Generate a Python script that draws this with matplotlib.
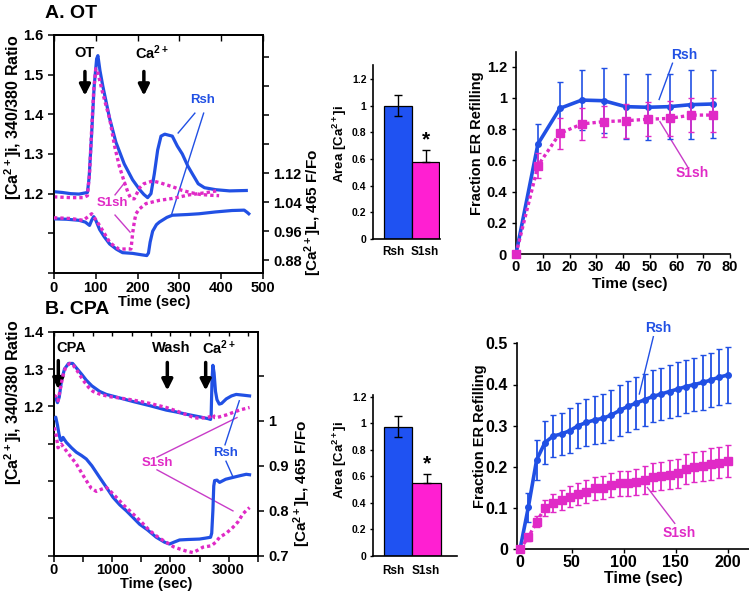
import numpy as np
import matplotlib
matplotlib.use('Agg')
import matplotlib.pyplot as plt

# ---------------- data ----------------
# Panel A, OT traces (upper = cytosolic, left axis; lower = luminal, right axis)
a_rsh_i_t = [0, 20, 40, 60, 80, 84, 90, 96, 102, 105, 110, 117, 125, 133, 148, 168, 188, 205, 215, 224,
             232, 240, 248, 256, 265, 283, 295, 307, 320, 331, 345, 360, 387, 420, 460]
a_rsh_i_v = [1.205, 1.203, 1.200, 1.199, 1.203, 1.24, 1.35, 1.47, 1.54, 1.548, 1.51, 1.47, 1.43, 1.39, 1.33,
             1.275, 1.235, 1.21, 1.198, 1.19, 1.20, 1.25, 1.31, 1.345, 1.35, 1.345, 1.32, 1.30, 1.27, 1.25,
             1.225, 1.215, 1.21, 1.207, 1.208]
a_s1_i_t = [0, 40, 70, 80, 85, 90, 95, 100, 104, 115, 125, 133, 145, 156, 168, 178, 184, 192, 198, 205,
            215, 236, 252, 270, 290, 307, 330, 350, 375, 395]
a_s1_i_v = [1.192, 1.19, 1.19, 1.195, 1.25, 1.36, 1.46, 1.515, 1.51, 1.46, 1.42, 1.39, 1.32, 1.27, 1.23,
            1.20, 1.188, 1.187, 1.20, 1.215, 1.225, 1.232, 1.228, 1.222, 1.215, 1.208, 1.202, 1.198, 1.196, 1.195]
a_rsh_l_t = [0, 30, 60, 75, 85, 90, 95, 100, 109, 120, 133, 150, 164, 188, 210, 222, 226, 230, 236, 245,
             252, 270, 283, 320, 347, 386, 426, 455, 462, 466]
a_rsh_l_v = [0.994, 0.993, 0.99, 0.985, 0.976, 0.99, 1.0, 0.99, 0.965, 0.945, 0.925, 0.91, 0.901, 0.899,
             0.895, 0.893, 0.90, 0.93, 0.96, 0.978, 0.985, 0.998, 1.004, 1.006, 1.008, 1.013, 1.017, 1.018,
             1.012, 1.008]
a_s1_l_t = [0, 40, 70, 85, 90, 95, 109, 120, 133, 145, 156, 184, 186, 188, 192, 196, 205, 220, 252, 283,
            323, 363, 394]
a_s1_l_v = [0.997, 0.995, 0.99, 1.003, 1.008, 1.0, 0.976, 0.955, 0.93, 0.918, 0.911, 0.911, 0.93, 0.953,
            0.985, 1.008, 1.022, 1.036, 1.045, 1.05, 1.06, 1.066, 1.072]

# Panel B, CPA traces
b_rsh_i_t = [0, 30, 60, 90, 130, 180, 250, 320, 400, 480, 555, 650, 784, 900, 1070, 1357, 1643, 1929, 2100,
             2272, 2500, 2650, 2690, 2700, 2715, 2730, 2750, 2775, 2800, 2840, 2880, 2960, 3050, 3130, 3250, 3360]
b_rsh_i_v = [1.225, 1.222, 1.21, 1.225, 1.27, 1.30, 1.315, 1.315, 1.30, 1.285, 1.27, 1.255, 1.24, 1.232,
             1.225, 1.213, 1.202, 1.19, 1.185, 1.179, 1.172, 1.167, 1.165, 1.175, 1.27, 1.31, 1.29, 1.24,
             1.218, 1.206, 1.208, 1.22, 1.228, 1.232, 1.23, 1.228]
b_s1_i_t = [0, 40, 70, 100, 150, 200, 270, 330, 400, 500, 600, 670, 800, 956, 1150, 1357, 1643, 1929, 2100,
            2272, 2400, 2500, 2600, 2680, 2730, 2760, 2800, 2960, 3100, 3188, 3360]
b_s1_i_v = [1.23, 1.225, 1.215, 1.24, 1.28, 1.305, 1.315, 1.31, 1.295, 1.27, 1.25, 1.24, 1.232, 1.226,
            1.222, 1.217, 1.208, 1.197, 1.188, 1.178, 1.17, 1.168, 1.17, 1.172, 1.178, 1.17, 1.17, 1.177,
            1.185, 1.19, 1.197]
b_rsh_l_t = [0, 30, 60, 86, 110, 126, 155, 180, 212, 300, 384, 470, 555, 650, 784, 900, 1013, 1130, 1242,
             1357, 1471, 1600, 1757, 1900, 1986, 2060, 2158, 2300, 2500, 2600, 2690, 2710, 2730, 2745, 2760,
             2800, 2845, 2950, 3074, 3200, 3303, 3360]
b_rsh_l_v = [1.005, 1.008, 0.99, 0.97, 0.958, 0.956, 0.963, 0.958, 0.952, 0.94, 0.93, 0.923, 0.915, 0.90,
             0.874, 0.852, 0.83, 0.813, 0.80, 0.785, 0.77, 0.758, 0.741, 0.73, 0.726, 0.73, 0.735, 0.736,
             0.737, 0.739, 0.741, 0.75, 0.80, 0.855, 0.867, 0.868, 0.863, 0.87, 0.874, 0.878, 0.881, 0.88]
b_s1_l_t = [0, 30, 69, 100, 126, 170, 212, 300, 384, 470, 555, 640, 727, 800, 899, 980, 1070, 1200, 1357,
            1500, 1643, 1800, 1929, 2050, 2158, 2280, 2387, 2480, 2559, 2700, 2780, 2845, 2960, 3074, 3160,
            3246, 3300, 3360]
b_s1_l_v = [0.985, 0.975, 0.94, 0.945, 0.948, 0.94, 0.933, 0.918, 0.904, 0.885, 0.867, 0.85, 0.843, 0.847,
            0.852, 0.842, 0.83, 0.812, 0.793, 0.775, 0.756, 0.74, 0.73, 0.72, 0.715, 0.71, 0.707, 0.713,
            0.719, 0.722, 0.73, 0.741, 0.75, 0.763, 0.775, 0.793, 0.80, 0.807]

# Bars
bar_groups = ['Rsh', 'S1sh']
barA_vals = [1.0, 0.58]
barA_err_lo = [0.08, 0.0]
barA_err_hi = [0.08, 0.09]
barB_vals = [0.975, 0.545]
barB_err_lo = [0.08, 0.0]
barB_err_hi = [0.08, 0.075]

# ER refilling
refA_t = [0, 8.2, 16.4, 24.6, 32.8, 41, 49.2, 57.4, 65.6, 73.8]
refA_rsh = [0, 0.705, 0.933, 0.986, 0.982, 0.944, 0.940, 0.944, 0.957, 0.961]
refA_rsh_err = [0, 0.13, 0.17, 0.19, 0.21, 0.21, 0.21, 0.21, 0.22, 0.22]
refA_s1 = [0, 0.566, 0.773, 0.833, 0.848, 0.854, 0.863, 0.869, 0.89, 0.89]
refA_s1_err = [0, 0.08, 0.10, 0.10, 0.10, 0.11, 0.11, 0.11, 0.11, 0.11]

refB_t = [0, 8, 16, 24, 32, 40, 48, 56, 64, 72, 80, 88, 96, 104, 112, 120, 128, 136, 144, 152, 160, 168,
          176, 184, 192, 200]
refB_rsh = [0, 0.102, 0.217, 0.259, 0.275, 0.28, 0.288, 0.30, 0.308, 0.314, 0.318, 0.326, 0.337, 0.347,
            0.355, 0.363, 0.371, 0.377, 0.383, 0.389, 0.395, 0.40, 0.405, 0.411, 0.418, 0.423]
refB_rsh_err = [0, 0.035, 0.048, 0.052, 0.052, 0.052, 0.055, 0.055, 0.057, 0.058, 0.06, 0.06, 0.061, 0.062,
                0.062, 0.063, 0.063, 0.064, 0.064, 0.065, 0.065, 0.065, 0.066, 0.066, 0.067, 0.067]
refB_s1 = [0, 0.029, 0.067, 0.10, 0.112, 0.12, 0.128, 0.134, 0.14, 0.148, 0.15, 0.156, 0.16, 0.16, 0.164,
           0.168, 0.175, 0.178, 0.181, 0.185, 0.195, 0.20, 0.202, 0.207, 0.21, 0.215]
refB_s1_err = [0, 0.008, 0.014, 0.02, 0.022, 0.024, 0.025, 0.026, 0.027, 0.028, 0.029, 0.03, 0.03, 0.031,
               0.032, 0.033, 0.034, 0.034, 0.035, 0.035, 0.036, 0.037, 0.037, 0.038, 0.038, 0.039]

# ---------------- style ----------------
W, H = 749, 593
plt.rcParams['font.family'] = ['Liberation Sans', 'DejaVu Sans']
plt.rcParams['font.weight'] = 'bold'
plt.rcParams['axes.labelweight'] = 'bold'
plt.rcParams['mathtext.fontset'] = 'custom'
plt.rcParams['mathtext.rm'] = 'Liberation Sans:bold'
plt.rcParams['mathtext.it'] = 'Liberation Sans:bold'
plt.rcParams['mathtext.bf'] = 'Liberation Sans:bold'
plt.rcParams['axes.linewidth'] = 1.2

BLUE = '#2150e4'
MAG = '#e02ac6'
BAR_BLUE = '#1f52f2'
BAR_MAG = '#ff1fd2'
LEAD_MAG = '#c83cc8'
CA = r'C$\mathrm{a}^{2+}$'

fig = plt.figure(figsize=(W / 100, H / 100), dpi=100)


def add_ax(l, t, r, b):
    return fig.add_axes([l / W, 1 - b / H, (r - l) / W, (b - t) / H])


def ftext(x, y, s, **kw):
    kw.setdefault('ha', 'center')
    kw.setdefault('va', 'center')
    fig.text(x / W, 1 - y / H, s, **kw)


DOT = (0, (1, 0.9))

# ================= Panel A trace =================
ax = add_ax(54, 35, 263, 273)
ax.set_xlim(0, 500)
ax.set_ylim(1.0, 1.6)
ax.plot(a_rsh_i_t, a_rsh_i_v, color=BLUE, lw=2.3, zorder=3)
ax.plot(a_s1_i_t, a_s1_i_v, color=MAG, lw=2.4, ls=DOT, zorder=4)
ax.set_xticks([0, 100, 200, 300, 400, 500])
ax.set_yticks([1.0, 1.1, 1.2, 1.3, 1.4, 1.5, 1.6])
ax.set_yticklabels(['', '', '1.2', '1.3', '1.4', '1.5', '1.6'])
ax.tick_params(labelsize=10.5, length=4, width=1.1, direction='out')
ax.tick_params(axis='x', pad=2)
sec = ax.secondary_xaxis('top')
sec.set_xticks([0, 100, 200, 300, 400, 500])
sec.tick_params(direction='in', labeltop=False, length=4, width=1.0)
ax2 = ax.twinx()
ax2.set_ylim(0.845, 1.5)
ax2.plot(a_rsh_l_t, a_rsh_l_v, color=BLUE, lw=2.3, zorder=3)
ax2.plot(a_s1_l_t, a_s1_l_v, color=MAG, lw=2.4, ls=DOT, zorder=4)
ax2.set_yticks([0.88, 0.96, 1.04, 1.12, 1.20, 1.28, 1.36, 1.44])
ax2.set_yticklabels(['0.88', '0.96', '1.04', '1.12', '', '', '', ''])
ax2.tick_params(labelsize=10.5, length=4, width=1.1, direction='out')
# annotations
ax.text(74, 1.555, 'OT', ha='center', va='center', fontsize=10.5)
ax.annotate('', xy=(74, 1.44), xytext=(74, 1.515),
            arrowprops=dict(arrowstyle='-|>', lw=2.5, color='k', mutation_scale=16))
ax.text(194, 1.555, CA, ha='left', va='center', fontsize=10.5)
ax.annotate('', xy=(215, 1.44), xytext=(215, 1.515),
            arrowprops=dict(arrowstyle='-|>', lw=2.5, color='k', mutation_scale=16))
ax.text(356, 1.436, 'Rsh', ha='center', va='center', fontsize=9.5, color=BLUE)
ax.plot([337, 297], [1.403, 1.353], color=BLUE, lw=1.0)
ax.plot([358, 282], [1.403, 1.150], color=BLUE, lw=1.0)
ax.text(139, 1.176, 'S1sh', ha='center', va='center', fontsize=9.5, color=MAG)
ax.plot([146, 170], [1.197, 1.229], color=LEAD_MAG, lw=1.0)
ax.plot([146, 182], [1.146, 1.103], color=LEAD_MAG, lw=1.0)

ftext(45, 14, 'A. OT', ha='left', fontsize=14)
ftext(154, 302, 'Time (sec)', fontsize=10.5)
ftext(13, 117, '[' + CA + ']i, 340/380 Ratio', rotation=90, fontsize=11.5)
ftext(313, 212, '[' + CA + ']L, 465 F/Fo', rotation=90, fontsize=11)

# ================= Panel A bar =================
axb = add_ax(372.7, 65, 440, 239)
axb.set_xlim(-0.9, 1.52)
axb.set_ylim(0, 1.305)
axb.bar([0, 1], barA_vals, width=1.0, color=[BAR_BLUE, BAR_MAG], edgecolor='k', linewidth=0.9,
        yerr=[barA_err_lo, barA_err_hi], error_kw=dict(ecolor='k', elinewidth=1.0, capsize=3, capthick=1.0))
axb.text(1, 0.745, '*', ha='center', va='center', fontsize=15)
axb.spines['top'].set_visible(False)
axb.spines['right'].set_visible(False)
axb.set_yticks([0, 0.2, 0.4, 0.6, 0.8, 1.0, 1.2])
axb.set_yticklabels(['0', '0.2', '0.4', '0.6', '0.8', '1', '1.2'])
axb.set_xticks([])
axb.tick_params(labelsize=7.5, length=2.5, width=1.0, pad=2)
ftext(393, 252, bar_groups[0], fontsize=8.5)
ftext(425, 252, bar_groups[1], fontsize=8.5)
ftext(340, 144, 'Area [' + CA + ']i', rotation=90, fontsize=9.5)

# ================= Panel A refill =================
axr = add_ax(516, 51.7, 730, 254)
axr.set_xlim(0, 80)
axr.set_ylim(0, 1.296)
axr.errorbar(refA_t, refA_rsh, yerr=refA_rsh_err, color=BLUE, lw=2.6, marker='o', ms=4, elinewidth=1.2,
             capsize=2.5, capthick=1.0, clip_on=False, zorder=3)
axr.errorbar(refA_t, refA_s1, yerr=refA_s1_err, color=MAG, lw=2.4, ls=DOT, marker='s', ms=5.5,
             elinewidth=1.2, capsize=2.5, capthick=1.0, clip_on=False, zorder=4)
axr.spines['top'].set_visible(False)
axr.spines['right'].set_visible(False)
axr.set_xticks(range(0, 81, 10))
axr.set_yticks([0, 0.2, 0.4, 0.6, 0.8, 1.0, 1.2])
axr.set_yticklabels(['0', '0.2', '0.4', '0.6', '0.8', '1', '1.2'])
axr.tick_params(labelsize=10.5, length=3, width=1.0)
axr.tick_params(axis='x', pad=1.5)
axr.text(62.9, 1.276, 'Rsh', ha='center', va='center', fontsize=10, color=BLUE)
axr.plot([58.5, 53.5], [1.222, 0.99], color=BLUE, lw=1.0)
axr.text(65.7, 0.519, 'S1sh', ha='center', va='center', fontsize=10, color=MAG)
axr.plot([64.1, 53.8], [0.56, 0.848], color=LEAD_MAG, lw=1.0)
ftext(630, 284, 'Time (sec)', fontsize=11)
ftext(477, 143, 'Fraction ER Refilling', rotation=90, fontsize=10.5)

# ================= Panel B trace =================
bx = add_ax(54, 331.7, 257.7, 555.7)
bx.set_xlim(0, 3500)
bx.set_ylim(0.8, 1.4)
bx.plot(b_rsh_i_t, b_rsh_i_v, color=BLUE, lw=2.3, zorder=3)
bx.plot(b_s1_i_t, b_s1_i_v, color=MAG, lw=2.4, ls=DOT, zorder=4)
bx.set_xticks([0, 500, 1000, 1500, 2000, 2500, 3000, 3500])
bx.set_xticklabels(['0', '', '1000', '', '2000', '', '3000', ''])
bx.set_yticks([0.8, 0.9, 1.0, 1.1, 1.2, 1.3, 1.4])
bx.set_yticklabels(['', '', '', '', '1.2', '1.3', '1.4'])
bx.tick_params(labelsize=10.5, length=4, width=1.1, direction='out')
bx.tick_params(axis='x', pad=1)
secb = bx.secondary_xaxis('top')
secb.set_xticks(list(np.arange(0, 3500, 1000 / 3)))
secb.tick_params(direction='in', labeltop=False, length=3, width=1.0)
bx2 = bx.twinx()
bx2.set_ylim(0.7, 1.198)
bx2.plot(b_rsh_l_t, b_rsh_l_v, color=BLUE, lw=2.3, zorder=3)
bx2.plot(b_s1_l_t, b_s1_l_v, color=MAG, lw=2.4, ls=DOT, zorder=4)
bx2.set_yticks([0.7, 0.8, 0.9, 1.0, 1.1])
bx2.set_yticklabels(['0.7', '0.8', '0.9', '1', ''])
bx2.tick_params(labelsize=10.5, length=4, width=1.1, direction='out')
bx.text(46, 1.356, 'CPA', ha='left', va='center', fontsize=10.5)
bx.annotate('', xy=(74, 1.238), xytext=(74, 1.33),
            arrowprops=dict(arrowstyle='-|>', lw=2.5, color='k', mutation_scale=16))
bx.text(2022, 1.356, 'Wash', ha='center', va='center', fontsize=10.5)
bx.annotate('', xy=(1947, 1.235), xytext=(1947, 1.325),
            arrowprops=dict(arrowstyle='-|>', lw=2.5, color='k', mutation_scale=16))
bx.text(2537, 1.356, CA, ha='left', va='center', fontsize=10.5)
bx.annotate('', xy=(2606, 1.235), xytext=(2606, 1.325),
            arrowprops=dict(arrowstyle='-|>', lw=2.5, color='k', mutation_scale=16))
bx.text(1770, 1.048, 'S1sh', ha='center', va='center', fontsize=9.5, color=MAG)
bx.plot([1770, 3144], [1.064, 1.17], color=LEAD_MAG, lw=1.0)
bx.plot([1770, 3075], [1.03, 0.92], color=LEAD_MAG, lw=1.0)
bx.text(2949, 1.075, 'Rsh', ha='center', va='center', fontsize=9.5, color=BLUE)
bx.plot([2938, 3184], [1.097, 1.215], color=BLUE, lw=1.0)
bx.plot([2955, 3075], [1.053, 1.011], color=BLUE, lw=1.0)

ftext(45, 310, 'B. CPA', ha='left', fontsize=14)
ftext(156, 584, 'Time (sec)', fontsize=10.5)
ftext(13, 402, '[' + CA + ']i, 340/380 Ratio', rotation=90, fontsize=11.5)
ftext(302, 483, '[' + CA + ']L, 465 F/Fo', rotation=90, fontsize=11)

# ================= Panel B bar =================
bxb = add_ax(372.7, 395.4, 456.7, 555.7)
bxb.set_xlim(-0.91, 2.07)
bxb.set_ylim(0, 1.21)
bxb.bar([0, 1], barB_vals, width=1.0, color=[BAR_BLUE, BAR_MAG], edgecolor='k', linewidth=0.9,
        yerr=[barB_err_lo, barB_err_hi], error_kw=dict(ecolor='k', elinewidth=1.0, capsize=3, capthick=1.0))
bxb.text(1, 0.69, '*', ha='center', va='center', fontsize=15)
bxb.spines['top'].set_visible(False)
bxb.spines['right'].set_visible(False)
bxb.set_yticks([0, 0.2, 0.4, 0.6, 0.8, 1.0, 1.2])
bxb.set_yticklabels(['0', '0.2', '0.4', '0.6', '0.8', '1', '1.2'])
bxb.set_xticks([])
bxb.tick_params(labelsize=7.5, length=2.5, width=1.0, pad=2)
ftext(393, 571, bar_groups[0], fontsize=8.5)
ftext(426, 571, bar_groups[1], fontsize=8.5)
ftext(340, 460, 'Area [' + CA + ']i', rotation=90, fontsize=9.5)

# ================= Panel B refill =================
bxr = add_ax(517, 343.3, 749, 549.3)
bxr.set_xlim(-2.9, 220.5)
bxr.set_ylim(0, 0.5)
bxr.errorbar(refB_t, refB_rsh, yerr=refB_rsh_err, color=BLUE, lw=2.6, marker='o', ms=4, elinewidth=1.3,
             capsize=2.5, capthick=1.0, clip_on=False, zorder=3)
bxr.errorbar(refB_t, refB_s1, yerr=refB_s1_err, color=MAG, lw=2.4, ls=DOT, marker='s', ms=5.5,
             elinewidth=1.3, capsize=2.5, capthick=1.0, clip_on=False, zorder=4)
bxr.spines['top'].set_visible(False)
bxr.spines['right'].set_visible(False)
bxr.set_xticks([0, 50, 100, 150, 200])
bxr.set_yticks([0, 0.1, 0.2, 0.3, 0.4, 0.5])
bxr.set_yticklabels(['0', '0.1', '0.2', '0.3', '0.4', '0.5'])
bxr.tick_params(labelsize=11.5, length=3, width=1.0)
bxr.tick_params(axis='x', pad=1)
bxr.text(133, 0.537, 'Rsh', ha='center', va='center', fontsize=10, color=BLUE, clip_on=False)
bxr.plot([128.4, 114.9], [0.516, 0.377], color=BLUE, lw=1.0, clip_on=False)
bxr.text(153, 0.04, 'S1sh', ha='center', va='center', fontsize=10, color=MAG)
bxr.plot([149, 122.6], [0.063, 0.15], color=LEAD_MAG, lw=1.0)
ftext(643, 578, 'Time (sec)', fontsize=11.5)
ftext(480, 436, 'Fraction ER Refilling', rotation=90, fontsize=10.5)

fig.savefig('out.png', dpi=100)
